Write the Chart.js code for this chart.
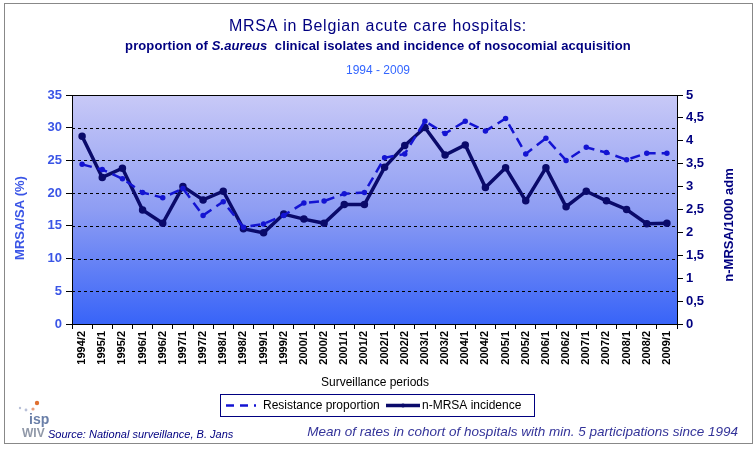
<!DOCTYPE html>
<html>
<head>
<meta charset="utf-8">
<script src="https://cdn.jsdelivr.net/npm/chart.js@4.4.1/dist/chart.umd.min.js"></script>
<style>
  html, body { margin: 0; padding: 0; background: #fff; }
  #wrap { width: 756px; height: 450px; }
</style>
</head>
<body>
<div id="wrap"><canvas id="myChart" width="756" height="450"></canvas></div>
<script>
const fontFamily = '"Liberation Sans", Arial, sans-serif';

// Surveillance periods
const periods = ["1994/2", "1995/1", "1995/2", "1996/1", "1996/2", "1997/1", "1997/2", "1998/1", "1998/2", "1999/1",
  "1999/2", "2000/1", "2000/2", "2001/1", "2001/2", "2002/1", "2002/2", "2003/1", "2003/2", "2004/1",
  "2004/2", "2005/1", "2005/2", "2006/1", "2006/2", "2007/1", "2007/2", "2008/1", "2008/2", "2009/1"];

// MRSA/SA (%) - left axis
const resistance = [24.4, 23.6, 22.2, 20.1, 19.3, 20.7, 16.6, 18.7, 14.8, 15.3,
  16.6, 18.5, 18.8, 19.9, 20.1, 25.4, 26.0, 31.0, 29.1, 31.0,
  29.5, 31.4, 26.0, 28.4, 25.0, 27.0, 26.2, 25.1, 26.1, 26.1];

// n-MRSA / 1000 admissions - right axis
const incidence = [4.10, 3.20, 3.40, 2.49, 2.20, 3.00, 2.71, 2.90, 2.08, 1.99,
  2.40, 2.29, 2.20, 2.61, 2.61, 3.42, 3.90, 4.29, 3.69, 3.91,
  2.98, 3.41, 2.69, 3.41, 2.56, 2.90, 2.69, 2.50, 2.19, 2.20];

const leftMax = 35, leftStep = 5;
const rightMax = 5, rightStep = 0.5;

const dashColor = "#1414d2";
const solidColor = "#0a0a6a";
const navy = "#000080";

// plot background gradient + dashed grid
const plotBg = {
    id: 'plotBg',
    beforeDatasetsDraw(chart) {
        const { ctx, chartArea: { top, bottom, left, right } } = chart;
        ctx.save();
        const g = ctx.createLinearGradient(0, top, 0, bottom);
        g.addColorStop(0, "#c8c9f7");
        g.addColorStop(0.5, "#8e9df3");
        g.addColorStop(1, "#3864f8");
        ctx.fillStyle = g;
        ctx.fillRect(left, top, right - left, bottom - top);
        const y = chart.scales.y;
        ctx.strokeStyle = "#000";
        ctx.lineWidth = 1;
        ctx.setLineDash([3, 3]);
        y.ticks.forEach(t => {
            if (t.value <= 0 || t.value >= leftMax) return;
            const py = Math.round(y.getPixelForValue(t.value)) + 0.5;
            ctx.beginPath();
            ctx.moveTo(left, py);
            ctx.lineTo(right, py);
            ctx.stroke();
        });
        ctx.setLineDash([]);
        ctx.strokeRect(Math.round(left) + 0.5, Math.round(top) + 0.5, Math.round(right - left), Math.round(bottom - top));
        ctx.restore();
    }
};

// titles, axis titles, legend, footer
const texts = {
    id: 'texts',
    afterDraw(chart) {
        const ctx = chart.ctx;
        ctx.save();
        // frame
        ctx.strokeStyle = "#888";
        ctx.lineWidth = 1;
        ctx.strokeRect(4.5, 3.5, 748, 440);

        ctx.textBaseline = 'middle';
        ctx.textAlign = 'center';
        ctx.fillStyle = navy;
        ctx.font = '16px ' + fontFamily;
        ctx.letterSpacing = '0.7px';
        ctx.fillText('MRSA in Belgian acute care hospitals:', 378, 27);

        // subtitle with italic species name
        const parts = [
            ['bold 13px ', 'proportion of '],
            ['italic bold 13px ', 'S.aureus'],
            ['bold 13px ', '  clinical isolates and incidence of nosocomial acquisition']
        ];
        ctx.letterSpacing = '0.1px';
        let total = 0;
        parts.forEach(p => { ctx.font = p[0] + fontFamily; total += ctx.measureText(p[1]).width; });
        let x = 378 - total / 2;
        ctx.textAlign = 'left';
        parts.forEach(p => {
            ctx.font = p[0] + fontFamily;
            ctx.fillText(p[1], x, 46);
            x += ctx.measureText(p[1]).width;
        });
        ctx.letterSpacing = '0px';

        ctx.textAlign = 'center';
        ctx.fillStyle = "#3366ff";
        ctx.font = '12px ' + fontFamily;
        ctx.fillText('1994 - 2009', 378, 71);

        // axis titles
        ctx.save();
        ctx.translate(20, 218);
        ctx.rotate(-Math.PI / 2);
        ctx.fillStyle = "#3a55e6";
        ctx.font = 'bold 13px ' + fontFamily;
        ctx.fillText('MRSA/SA (%)', 0, 0);
        ctx.restore();

        ctx.save();
        ctx.translate(729, 225);
        ctx.rotate(-Math.PI / 2);
        ctx.fillStyle = navy;
        ctx.font = 'bold 13px ' + fontFamily;
        ctx.fillText('n-MRSA/1000 adm', 0, 0);
        ctx.restore();

        ctx.fillStyle = "#000";
        ctx.font = '12px ' + fontFamily;
        ctx.fillText('Surveillance periods', 375, 383);

        // legend
        ctx.strokeStyle = navy;
        ctx.lineWidth = 1;
        ctx.strokeRect(220.5, 394.5, 314, 22);
        ctx.strokeStyle = dashColor;
        ctx.lineWidth = 2.5;
        ctx.setLineDash([8, 6]);
        ctx.beginPath(); ctx.moveTo(226, 405.5); ctx.lineTo(256, 405.5); ctx.stroke();
        ctx.setLineDash([]);
        ctx.strokeStyle = solidColor;
        ctx.lineWidth = 3.5;
        ctx.beginPath(); ctx.moveTo(386, 405.5); ctx.lineTo(420, 405.5); ctx.stroke();
        ctx.fillStyle = solidColor;
        ctx.beginPath(); ctx.arc(403, 405.5, 2, 0, Math.PI * 2); ctx.fill();
        ctx.fillStyle = "#000";
        ctx.textAlign = 'left';
        ctx.font = '12px ' + fontFamily;
        ctx.fillText('Resistance proportion', 263, 406);
        ctx.fillText('n-MRSA incidence', 422, 406);

        // footer
        ctx.fillStyle = navy;
        ctx.font = 'italic 11px ' + fontFamily;
        ctx.fillText('Source: National surveillance, B. Jans', 48, 435);
        ctx.fillStyle = "#333399";
        ctx.textAlign = 'right';
        ctx.font = 'italic 13.5px ' + fontFamily;
        ctx.fillText('Mean of rates in cohort of hospitals with min. 5 participations since 1994', 738, 432);

        // logo
        ctx.textAlign = 'left';
        ctx.fillStyle = "#e07030";
        ctx.beginPath(); ctx.arc(37, 403, 2.2, 0, Math.PI * 2); ctx.fill();
        ctx.fillStyle = "#e8a080";
        ctx.beginPath(); ctx.arc(33, 409, 1.6, 0, Math.PI * 2); ctx.fill();
        ctx.fillStyle = "#b8c0d8";
        ctx.beginPath(); ctx.arc(26, 410, 1.4, 0, Math.PI * 2); ctx.fill();
        ctx.beginPath(); ctx.arc(20, 408, 1.2, 0, Math.PI * 2); ctx.fill();
        ctx.fillStyle = "#6a7fa8";
        ctx.font = 'bold 14px ' + fontFamily;
        ctx.fillText('isp', 29, 420);
        ctx.fillStyle = "#9098a8";
        ctx.font = 'bold 12px ' + fontFamily;
        ctx.fillText('WIV', 22, 434);
        ctx.restore();
    }
};

new Chart("myChart", {
    type: "line",
    data: {
        labels: periods,
        datasets: [{
            label: "Resistance proportion",
            data: resistance,
            yAxisID: 'y',
            borderColor: dashColor,
            backgroundColor: dashColor,
            borderWidth: 2.5,
            borderDash: [10, 6],
            pointRadius: 1.5,
            pointStyle: 'circle',
            tension: 0,
        }, {
            label: "n-MRSA incidence",
            data: incidence,
            yAxisID: 'y1',
            borderColor: solidColor,
            backgroundColor: solidColor,
            borderWidth: 3.5,
            pointRadius: 2,
            tension: 0,
        }],
    },
    options: {
        responsive: false,
        animation: false,
        layout: { padding: { top: 95, bottom: 76, left: 0, right: 0 } },
        plugins: {
            legend: { display: false },
            tooltip: { enabled: false },
            title: { display: false },
        },
        scales: {
            x: {
                offset: true,
                afterFit(scale) { scale.height = 50; },
                grid: {
                    offset: true,
                    drawOnChartArea: false,
                    tickLength: 5,
                    tickColor: "#000",
                },
                border: { color: "#000" },
                ticks: {
                    autoSkip: false,
                    maxRotation: 90,
                    minRotation: 90,
                    padding: 2,
                    color: "#000",
                    font: { family: fontFamily, size: 11, weight: 'bold' },
                },
            },
            y: {
                position: 'left',
                min: 0,
                max: leftMax,
                afterFit(scale) { scale.width = 72; },
                grid: { drawOnChartArea: false, tickLength: 6, tickColor: "#000" },
                border: { color: "#000" },
                ticks: {
                    stepSize: leftStep,
                    padding: 4,
                    color: "#3a55e6",
                    font: { family: fontFamily, size: 13, weight: 'bold' },
                },
            },
            y1: {
                position: 'right',
                min: 0,
                max: rightMax,
                afterFit(scale) { scale.width = 79; },
                grid: { drawOnChartArea: false, tickLength: 6, tickColor: "#000" },
                border: { color: "#000" },
                ticks: {
                    stepSize: rightStep,
                    padding: 3,
                    color: navy,
                    font: { family: fontFamily, size: 13, weight: 'bold' },
                    callback: v => String(v).replace('.', ','),
                },
            },
        },
    },
    plugins: [plotBg, texts]
});
</script>
</body>
</html>
